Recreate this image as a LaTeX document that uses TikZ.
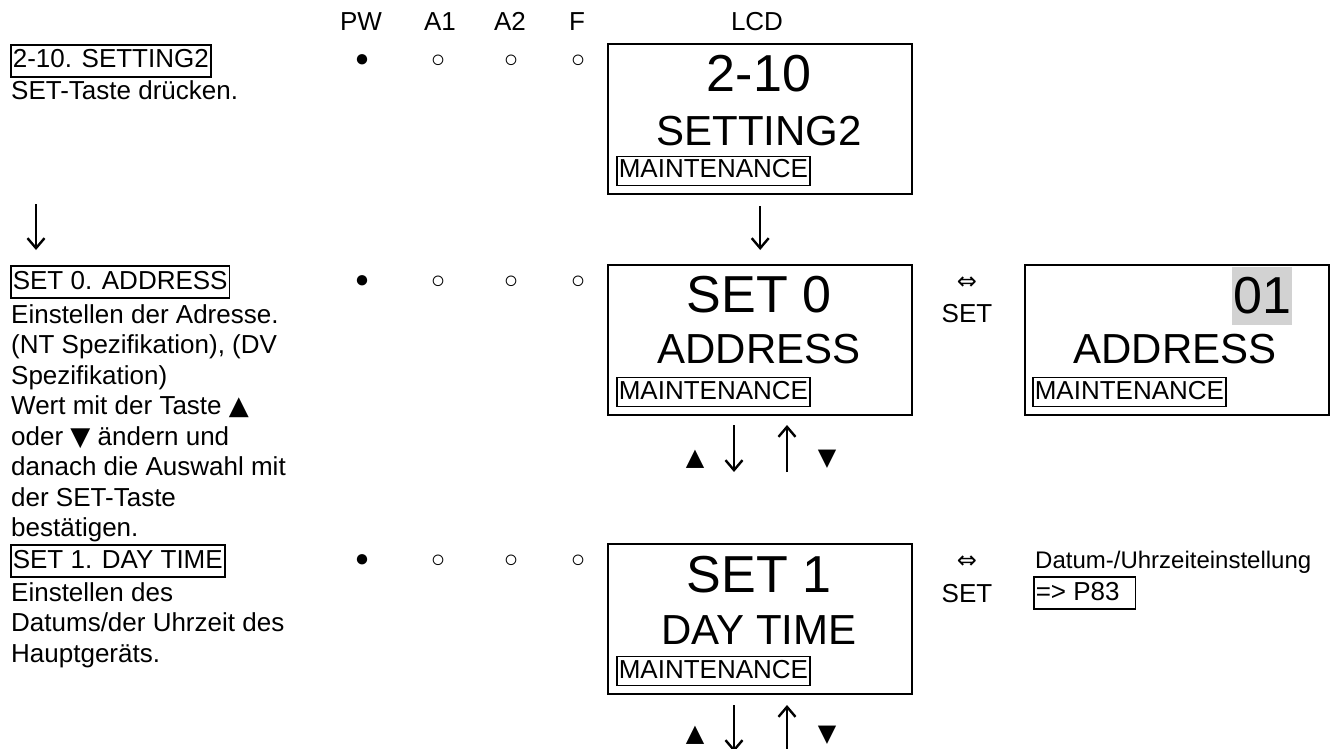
\documentclass[tikz,border=0pt]{standalone}
\usepackage{fontspec}
\setmainfont{Liberation Sans}
\newfontfamily\djv{DejaVu Sans}
\usetikzlibrary{arrows.meta}
\begin{document}
\begin{tikzpicture}[x=1pt,y=-1pt,
  lcd/.style={draw, line width=2.4pt, minimum width=304pt, minimum height=150pt, inner sep=0pt, anchor=north west},
  big/.style={font=\fontsize{52}{52}\selectfont, inner sep=0pt},
  mid/.style={font=\fontsize{42}{42}\selectfont, inner sep=0pt},
  mtag/.style={draw, line width=1.6pt, font=\fontsize{26}{30}\selectfont, inner xsep=2pt, inner ysep=2.5pt, text height=19pt, text depth=5pt, anchor=west},
  body/.style={font=\fontsize{26}{30}\selectfont, inner sep=0pt, anchor=base west},
  ttl/.style={body, draw, line width=1.6pt, inner xsep=2pt, inner ysep=3pt, text height=20pt, text depth=6pt},
  hdr/.style={font=\fontsize{26}{30}\selectfont, inner sep=0pt, anchor=base},
  setl/.style={font=\fontsize{26}{30}\selectfont, inner sep=0pt},
  led/.style={font=\fontsize{24}{30}\selectfont, inner sep=0pt},
  tri/.style={font=\djv\fontsize{24}{30}\selectfont, inner sep=0pt},
  dbl/.style={font=\djv\fontsize{24}{30}\selectfont, inner sep=0pt},
  arr/.style={line width=2.4pt, -{Straight Barb[length=10pt,width=17pt]}}
]
\useasboundingbox (0,0) rectangle (1334,749);
\clip (0,0) rectangle (1334,749);

% header
\node[hdr] (hPW) at (361,31) {PW};
\node[hdr] (hA1) at (440,31) {A1};
\node[hdr] (hA2) at (510,31) {A2};
\node[hdr] (hF)  at (577,31) {F};
\node[hdr] (hLCD) at (757,31) {LCD};

% ---------- row 1 ----------
\node[ttl] (t1) at (10,68) {2-10. SETTING2};
\node[body] (t1a) at (11,100) {SET-Taste drücken.};
\node[led] (r1pw) at (362,61) {●};
\node[led] (r1a1) at (438,61) {○};
\node[led] (r1a2) at (511,61) {○};
\node[led] (r1f)  at (578,61) {○};
\node[lcd] (lcd1) at (607,43) {};
\node[big] (lcd1a) at (759,74) {2-10};
\node[mid] (lcd1b) at (759,131) {SETTING2};
\node[mtag] (lcd1m) at (616,171) {MAINTENANCE};

% ---------- row 2 ----------
\node[ttl] (t2) at (10,289) {SET 0. ADDRESS};
\node[body] (t2a) at (11,323) {Einstellen der Adresse.};
\node[body] (t2b) at (11,353.5) {(NT Spezifikation), (DV};
\node[body] (t2c) at (11,384) {Spezifikation)};
\node[body] (t2d) at (11,414.5) {Wert mit der Taste {\djv▲}};
\node[body] (t2e) at (11,445) {oder {\djv▼} ändern und};
\node[body] (t2f) at (11,475.5) {danach die Auswahl mit};
\node[body] (t2g) at (11,506) {der SET-Taste};
\node[body] (t2h) at (11,536.5) {bestätigen.};
\node[led] (r2pw) at (362,282) {●};
\node[led] (r2a1) at (438,282) {○};
\node[led] (r2a2) at (511,282) {○};
\node[led] (r2f)  at (578,282) {○};
\node[lcd] (lcd2) at (607,264) {};
\node[big] (lcd2a) at (759,295) {SET 0};
\node[mid] (lcd2b) at (759,349) {ADDRESS};
\node[mtag] (lcd2m) at (616,392) {MAINTENANCE};
\node[dbl] (sw2) at (967,283) {⇔};
\node[setl] (sw2t) at (967,314) {SET};
\node[lcd] (lcd3) at (1024,264) {};
\node[big, fill=gray!35, inner xsep=1pt, minimum height=58pt] (lcd3a) at (1262,296) {01};
\node[mid] (lcd3b) at (1175,349) {ADDRESS};
\node[mtag] (lcd3m) at (1032,392) {MAINTENANCE};

% arrows row1 -> row2
\coordinate (la1) at (36,204);
\coordinate (la2) at (36,250);
\draw[arr] (la1) -- (la2);
\draw[arr, shorten <=11pt, shorten >=14pt] (lcd1.south) -- (lcd2.north);

% arrows below lcd2
\coordinate (d2a) at (734,425); \coordinate (d2b) at (734,472);
\coordinate (u2a) at (787,472); \coordinate (u2b) at (787,425);
\draw[arr] (d2a) -- (d2b);
\draw[arr] (u2a) -- (u2b);
\node[tri] (up2) at (695,459) {▲};
\node[tri] (dn2) at (827,459) {▼};

% ---------- row 4 ----------
\node[ttl] (t4) at (10,568) {SET 1. DAY TIME};
\node[body] (t4a) at (11,601) {Einstellen des};
\node[body] (t4b) at (11,631.5) {Datums/der Uhrzeit des};
\node[body] (t4c) at (11,662) {Hauptgeräts.};
\node[led] (r4pw) at (362,561) {●};
\node[led] (r4a1) at (438,561) {○};
\node[led] (r4a2) at (511,561) {○};
\node[led] (r4f)  at (578,561) {○};
\node[lcd] (lcd4) at (607,543) {};
\node[big] (lcd4a) at (759,575) {SET 1};
\node[mid] (lcd4b) at (759,630) {DAY TIME};
\node[mtag] (lcd4m) at (616,671) {MAINTENANCE};
\node[dbl] (sw4) at (967,562) {⇔};
\node[setl] (sw4t) at (967,594) {SET};
\node[body, font=\fontsize{24}{28}\selectfont] (dt) at (1035,568) {Datum-/Uhrzeiteinstellung};
\node[ttl] (p83) at (1033,600) {=> P83\hspace*{14pt}};

% arrows below lcd4
\coordinate (d4a) at (734,705); \coordinate (d4b) at (734,752);
\coordinate (u4a) at (787,752); \coordinate (u4b) at (787,705);
\draw[arr] (d4a) -- (d4b);
\draw[arr] (u4a) -- (u4b);
\node[tri] (up4) at (695,735) {▲};
\node[tri] (dn4) at (827,735) {▼};
\end{tikzpicture}
\end{document}
